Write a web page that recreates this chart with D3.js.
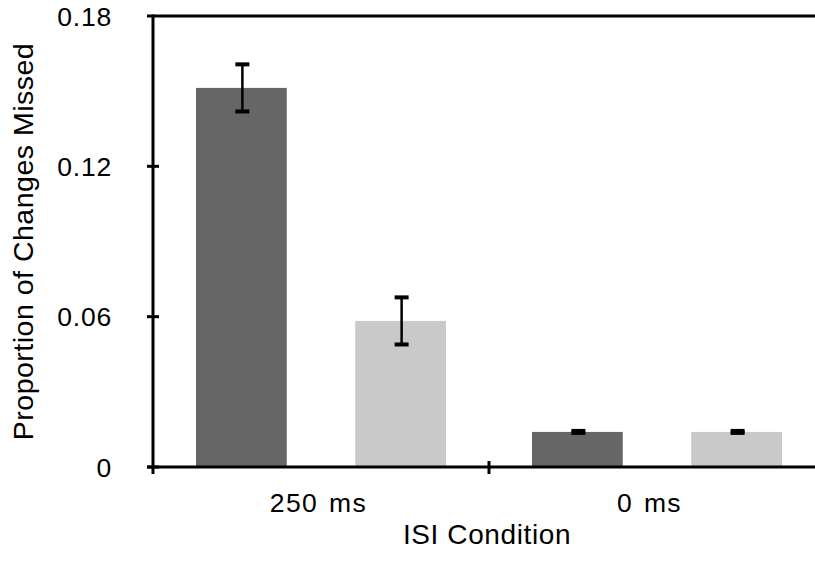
<!DOCTYPE html>
<html>
<head>
<meta charset="utf-8">
<script src="https://cdn.jsdelivr.net/npm/d3@7"></script>
<style>
  body { margin: 0; background: #fff; }
  text { font-family: "Liberation Sans", Arial, Helvetica, sans-serif; fill: #000; }
</style>
</head>
<body>
<div id="graph"></div>
<script>
// data
var groups = ["250 ms", "0 ms"];
var series = ["dark", "light"];
var darkValues = [0.1513, 0.0140];
var darkErrors = [0.0094, 0.0004];
var lightValues = [0.0583, 0.0140];
var lightErrors = [0.0094, 0.0004];
var yTicks = [0, 0.06, 0.12, 0.18];

var width = 815, height = 566;
var palette = { dark: "#666666", light: "#c9c9c9" };

var svg = d3.select("#graph").append("svg")
    .attr("width", width)
    .attr("height", height);

var plotLeft = 153, plotBottom = 467, plotTop = 16;

var y = d3.scaleLinear().domain([0, 0.18]).range([plotBottom, plotTop]);
// category axis runs past the right edge of the picture
var x0 = d3.scaleBand().domain(groups).range([plotLeft, 825]);
var x1 = d3.scaleBand().domain(series).range([0, x0.bandwidth()])
    .paddingInner(0.43).paddingOuter(0.27);
// labels are centred on the visible part of the axis
var xLabel = d3.scaleBand().domain(groups).range([plotLeft, width]);

var rows = [];
groups.forEach(function(g, i) {
  rows.push({ group: g, key: "dark", value: darkValues[i], err: darkErrors[i] });
  rows.push({ group: g, key: "light", value: lightValues[i], err: lightErrors[i] });
});

svg.selectAll("rect.bar")
    .data(rows).enter()
    .append("rect")
    .attr("class", "bar")
    .attr("x", function(d) { return x0(d.group) + x1(d.key); })
    .attr("y", function(d) { return y(d.value); })
    .attr("width", x1.bandwidth())
    .attr("height", function(d) { return y(0) - y(d.value); })
    .attr("fill", function(d) { return palette[d.key]; });

// error bars
var err = svg.selectAll("g.err")
    .data(rows).enter()
    .append("g")
    .attr("class", "err")
    .attr("transform", function(d) {
      return "translate(" + (x0(d.group) + x1(d.key) + x1.bandwidth() / 2 + 1) + ",0)";
    });

err.append("line")
    .attr("x1", 0).attr("x2", 0)
    .attr("y1", function(d) { return y(d.value + d.err); })
    .attr("y2", function(d) { return y(d.value - d.err); })
    .attr("stroke", "#000").attr("stroke-width", 2.5);

err.selectAll("line.cap")
    .data(function(d) { return [d.value + d.err, d.value - d.err]; })
    .enter().append("line")
    .attr("class", "cap")
    .attr("x1", -7).attr("x2", 7)
    .attr("y1", function(v) { return y(v); })
    .attr("y2", function(v) { return y(v); })
    .attr("stroke", "#000").attr("stroke-width", 4);

// y axis
var yAxis = svg.append("g");
yAxis.append("line")
    .attr("x1", plotLeft).attr("x2", plotLeft)
    .attr("y1", y(0.18) - 1.5).attr("y2", y(0) + 7)
    .attr("stroke", "#000").attr("stroke-width", 3);

yAxis.selectAll("line.tick")
    .data(yTicks).enter()
    .append("line")
    .attr("class", "tick")
    .attr("x1", plotLeft - 6)
    .attr("x2", function(d) { return d == 0.18 ? width : plotLeft + 6; })
    .attr("y1", function(d) { return y(d); })
    .attr("y2", function(d) { return y(d); })
    .attr("stroke", "#000").attr("stroke-width", 3);

yAxis.selectAll("text")
    .data(yTicks).enter()
    .append("text")
    .attr("x", 112)
    .attr("y", function(d) { return y(d); })
    .attr("dy", "0.36em")
    .attr("text-anchor", "end")
    .attr("font-size", "26.5px")
    .attr("letter-spacing", "0.8px")
    .text(function(d) { return d == 0 ? "0" : d3.format(".2f")(d); });

// x axis
var xAxis = svg.append("g");
xAxis.append("line")
    .attr("x1", plotLeft - 6).attr("x2", width)
    .attr("y1", y(0)).attr("y2", y(0))
    .attr("stroke", "#000").attr("stroke-width", 3);

xAxis.selectAll("line.tick")
    .data(groups.slice(1)).enter()
    .append("line")
    .attr("class", "tick")
    .attr("x1", function(d) { return x0(d); })
    .attr("x2", function(d) { return x0(d); })
    .attr("y1", y(0) - 6).attr("y2", y(0) + 7)
    .attr("stroke", "#000").attr("stroke-width", 3);

xAxis.selectAll("text")
    .data(groups).enter()
    .append("text")
    .attr("x", function(d) { return xLabel(d) + xLabel.bandwidth() / 2; })
    .attr("y", 511.5)
    .attr("text-anchor", "middle")
    .attr("font-size", "26.5px")
    .attr("letter-spacing", "1.4px")
    .attr("word-spacing", "2px")
    .text(function(d) { return d; });

svg.append("text")
    .attr("x", 487)
    .attr("y", 543.5)
    .attr("text-anchor", "middle")
    .attr("font-size", "28px")
    .attr("letter-spacing", "0.6px")
    .text("ISI Condition");

svg.append("text")
    .attr("transform", "translate(33," + ((plotTop + plotBottom) / 2) + ") rotate(-90)")
    .attr("text-anchor", "middle")
    .attr("font-size", "28.5px")
    .attr("letter-spacing", "0.5px")
    .text("Proportion of Changes Missed");
</script>
</body>
</html>
